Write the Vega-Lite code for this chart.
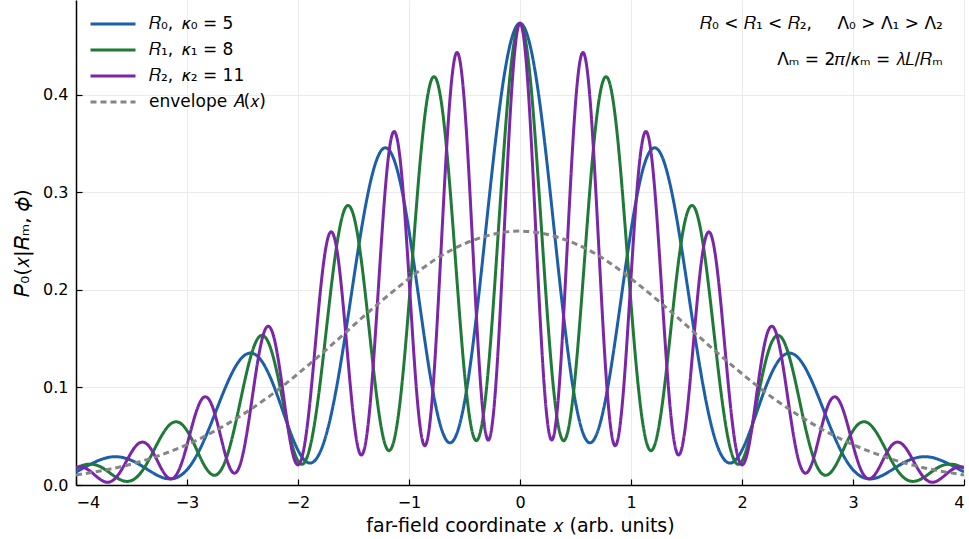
{
"$schema": "https://vega.github.io/schema/vega-lite/v6.json",
"width": 888, "height": 485,
"autosize": {"type": "none"},
"padding": {"left": 76, "top": 0, "right": 5, "bottom": 54},
"background": "white",
"config": {"font": "DejaVu Sans", "view": {"stroke": null},
 "axis": {"labelFont": "DejaVu Sans", "titleFont": "DejaVu Sans", "labelColor": "black", "titleColor": "black", "titleFontWeight": "normal", "domainColor": "black", "domainWidth": 1.5, "tickColor": "black", "tickWidth": 1.2, "gridColor": "#ebebeb", "gridWidth": 1}},
"datasets": {"curves": [
{"s":"R0","x":-4,"y":0.0134},{"s":"R0","x":-3.927,"y":0.0178},{"s":"R0","x":-3.7699,"y":0.0263},{"s":"R0","x":-3.6128,"y":0.0288},{"s":"R0","x":-3.4558,"y":0.0228},{"s":"R0","x":-3.2987,"y":0.0119},{"s":"R0","x":-3.1416,"y":0.0063},{"s":"R0","x":-2.9845,"y":0.0177},{"s":"R0","x":-2.8274,"y":0.0507},{"s":"R0","x":-2.6704,"y":0.0954},{"s":"R0","x":-2.5133,"y":0.1295},{"s":"R0","x":-2.3562,"y":0.1311},{"s":"R0","x":-2.1991,"y":0.0959},{"s":"R0","x":-2.042,"y":0.0463},{"s":"R0","x":-1.885,"y":0.0225},{"s":"R0","x":-1.7279,"y":0.0591},{"s":"R0","x":-1.5708,"y":0.1563},{"s":"R0","x":-1.4137,"y":0.272},{"s":"R0","x":-1.2566,"y":0.3417},{"s":"R0","x":-1.0996,"y":0.3202},{"s":"R0","x":-0.9425,"y":0.2165},{"s":"R0","x":-0.7854,"y":0.0965},{"s":"R0","x":-0.6283,"y":0.0432},{"s":"R0","x":-0.4712,"y":0.1045},{"s":"R0","x":-0.3142,"y":0.2549},{"s":"R0","x":-0.1571,"y":0.4087},
{"s":"R0","x":0,"y":0.4732},
{"s":"R0","x":0.1571,"y":0.4087},{"s":"R0","x":0.3142,"y":0.2549},{"s":"R0","x":0.4712,"y":0.1045},{"s":"R0","x":0.6283,"y":0.0432},{"s":"R0","x":0.7854,"y":0.0965},{"s":"R0","x":0.9425,"y":0.2165},{"s":"R0","x":1.0996,"y":0.3202},{"s":"R0","x":1.2566,"y":0.3417},{"s":"R0","x":1.4137,"y":0.272},{"s":"R0","x":1.5708,"y":0.1563},{"s":"R0","x":1.7279,"y":0.0591},{"s":"R0","x":1.885,"y":0.0225},{"s":"R0","x":2.042,"y":0.0463},{"s":"R0","x":2.1991,"y":0.0959},{"s":"R0","x":2.3562,"y":0.1311},{"s":"R0","x":2.5133,"y":0.1295},{"s":"R0","x":2.6704,"y":0.0954},{"s":"R0","x":2.8274,"y":0.0507},{"s":"R0","x":2.9845,"y":0.0177},{"s":"R0","x":3.1416,"y":0.0063},{"s":"R0","x":3.2987,"y":0.0119},{"s":"R0","x":3.4558,"y":0.0228},{"s":"R0","x":3.6128,"y":0.0288},{"s":"R0","x":3.7699,"y":0.0263},{"s":"R0","x":3.927,"y":0.0178},{"s":"R0","x":4,"y":0.0134},

{"s":"R1","x":-4,"y":0.017},{"s":"R1","x":-3.927,"y":0.0206},{"s":"R1","x":-3.8288,"y":0.0208},{"s":"R1","x":-3.7306,"y":0.0153},{"s":"R1","x":-3.6325,"y":0.0074},{"s":"R1","x":-3.5343,"y":0.0037},{"s":"R1","x":-3.4361,"y":0.0099},{"s":"R1","x":-3.3379,"y":0.0269},{"s":"R1","x":-3.2398,"y":0.0483},{"s":"R1","x":-3.1416,"y":0.0631},{"s":"R1","x":-3.0434,"y":0.0619},{"s":"R1","x":-2.9452,"y":0.0442},{"s":"R1","x":-2.8471,"y":0.0208},{"s":"R1","x":-2.7489,"y":0.01},{"s":"R1","x":-2.6507,"y":0.0259},{"s":"R1","x":-2.5525,"y":0.0683},{"s":"R1","x":-2.4544,"y":0.1192},{"s":"R1","x":-2.3562,"y":0.1511},{"s":"R1","x":-2.258,"y":0.1437},{"s":"R1","x":-2.1598,"y":0.0994},{"s":"R1","x":-2.0617,"y":0.0455},{"s":"R1","x":-1.9635,"y":0.0212},{"s":"R1","x":-1.8653,"y":0.0533},{"s":"R1","x":-1.7671,"y":0.1366},{"s":"R1","x":-1.669,"y":0.2313},{"s":"R1","x":-1.5708,"y":0.2845},{"s":"R1","x":-1.4726,"y":0.2626},{"s":"R1","x":-1.3744,"y":0.1761},{"s":"R1","x":-1.2763,"y":0.0781},{"s":"R1","x":-1.1781,"y":0.0352},{"s":"R1","x":-1.0799,"y":0.0859},{"s":"R1","x":-0.9817,"y":0.2131},{"s":"R1","x":-0.8836,"y":0.3508},{"s":"R1","x":-0.7854,"y":0.4178},{"s":"R1","x":-0.6872,"y":0.3734},{"s":"R1","x":-0.589,"y":0.2424},{"s":"R1","x":-0.4909,"y":0.1041},{"s":"R1","x":-0.3927,"y":0.0454},{"s":"R1","x":-0.2945,"y":0.1074},{"s":"R1","x":-0.1963,"y":0.258},{"s":"R1","x":-0.0982,"y":0.4099},
{"s":"R1","x":0,"y":0.4732},
{"s":"R1","x":0.0982,"y":0.4099},{"s":"R1","x":0.1963,"y":0.258},{"s":"R1","x":0.2945,"y":0.1074},{"s":"R1","x":0.3927,"y":0.0454},{"s":"R1","x":0.4909,"y":0.1041},{"s":"R1","x":0.589,"y":0.2424},{"s":"R1","x":0.6872,"y":0.3734},{"s":"R1","x":0.7854,"y":0.4178},{"s":"R1","x":0.8836,"y":0.3508},{"s":"R1","x":0.9817,"y":0.2131},{"s":"R1","x":1.0799,"y":0.0859},{"s":"R1","x":1.1781,"y":0.0352},{"s":"R1","x":1.2763,"y":0.0781},{"s":"R1","x":1.3744,"y":0.1761},{"s":"R1","x":1.4726,"y":0.2626},{"s":"R1","x":1.5708,"y":0.2845},{"s":"R1","x":1.669,"y":0.2313},{"s":"R1","x":1.7671,"y":0.1366},{"s":"R1","x":1.8653,"y":0.0533},{"s":"R1","x":1.9635,"y":0.0212},{"s":"R1","x":2.0617,"y":0.0455},{"s":"R1","x":2.1598,"y":0.0994},{"s":"R1","x":2.258,"y":0.1437},{"s":"R1","x":2.3562,"y":0.1511},{"s":"R1","x":2.4544,"y":0.1192},{"s":"R1","x":2.5525,"y":0.0683},{"s":"R1","x":2.6507,"y":0.0259},{"s":"R1","x":2.7489,"y":0.01},{"s":"R1","x":2.8471,"y":0.0208},{"s":"R1","x":2.9452,"y":0.0442},{"s":"R1","x":3.0434,"y":0.0619},{"s":"R1","x":3.1416,"y":0.0631},{"s":"R1","x":3.2398,"y":0.0483},{"s":"R1","x":3.3379,"y":0.0269},{"s":"R1","x":3.4361,"y":0.0099},{"s":"R1","x":3.5343,"y":0.0037},{"s":"R1","x":3.6325,"y":0.0074},{"s":"R1","x":3.7306,"y":0.0153},{"s":"R1","x":3.8288,"y":0.0208},{"s":"R1","x":3.927,"y":0.0206},{"s":"R1","x":4,"y":0.017},

{"s":"R2","x":-3.9984,"y":0.0183},{"s":"R2","x":-3.927,"y":0.0178},{"s":"R2","x":-3.8556,"y":0.0126},{"s":"R2","x":-3.7842,"y":0.006},{"s":"R2","x":-3.7128,"y":0.0028},{"s":"R2","x":-3.6414,"y":0.0074},{"s":"R2","x":-3.57,"y":0.0194},{"s":"R2","x":-3.4986,"y":0.0339},{"s":"R2","x":-3.4272,"y":0.0432},{"s":"R2","x":-3.3558,"y":0.0414},{"s":"R2","x":-3.2844,"y":0.0288},{"s":"R2","x":-3.213,"y":0.0133},{"s":"R2","x":-3.1416,"y":0.0063},{"s":"R2","x":-3.0702,"y":0.016},{"s":"R2","x":-2.9988,"y":0.0415},{"s":"R2","x":-2.9274,"y":0.0712},{"s":"R2","x":-2.856,"y":0.0893},{"s":"R2","x":-2.7846,"y":0.0841},{"s":"R2","x":-2.7132,"y":0.0576},{"s":"R2","x":-2.6418,"y":0.0262},{"s":"R2","x":-2.5704,"y":0.0121},{"s":"R2","x":-2.499,"y":0.0303},{"s":"R2","x":-2.4276,"y":0.0775},{"s":"R2","x":-2.3562,"y":0.1311},{"s":"R2","x":-2.2848,"y":0.1615},{"s":"R2","x":-2.2134,"y":0.1496},{"s":"R2","x":-2.142,"y":0.101},{"s":"R2","x":-2.0706,"y":0.0451},{"s":"R2","x":-1.9992,"y":0.0206},{"s":"R2","x":-1.9278,"y":0.0508},{"s":"R2","x":-1.8564,"y":0.1278},{"s":"R2","x":-1.785,"y":0.213},{"s":"R2","x":-1.7136,"y":0.2583},{"s":"R2","x":-1.6422,"y":0.2355},{"s":"R2","x":-1.5708,"y":0.1563},{"s":"R2","x":-1.4994,"y":0.0688},{"s":"R2","x":-1.428,"y":0.0307},{"s":"R2","x":-1.3566,"y":0.0747},{"s":"R2","x":-1.2852,"y":0.1849},{"s":"R2","x":-1.2138,"y":0.3031},{"s":"R2","x":-1.1424,"y":0.3615},{"s":"R2","x":-1.071,"y":0.3242},{"s":"R2","x":-0.9996,"y":0.2116},{"s":"R2","x":-0.9282,"y":0.0915},{"s":"R2","x":-0.8568,"y":0.0403},{"s":"R2","x":-0.7854,"y":0.0965},{"s":"R2","x":-0.714,"y":0.2346},{"s":"R2","x":-0.6426,"y":0.3779},{"s":"R2","x":-0.5712,"y":0.443},{"s":"R2","x":-0.4998,"y":0.3905},{"s":"R2","x":-0.4284,"y":0.2505},{"s":"R2","x":-0.357,"y":0.1065},{"s":"R2","x":-0.2856,"y":0.046},{"s":"R2","x":-0.2142,"y":0.1082},{"s":"R2","x":-0.1428,"y":0.2589},{"s":"R2","x":-0.0714,"y":0.4103},
{"s":"R2","x":0,"y":0.4732},
{"s":"R2","x":0.0714,"y":0.4103},{"s":"R2","x":0.1428,"y":0.2589},{"s":"R2","x":0.2142,"y":0.1082},{"s":"R2","x":0.2856,"y":0.046},{"s":"R2","x":0.357,"y":0.1065},{"s":"R2","x":0.4284,"y":0.2505},{"s":"R2","x":0.4998,"y":0.3905},{"s":"R2","x":0.5712,"y":0.443},{"s":"R2","x":0.6426,"y":0.3779},{"s":"R2","x":0.714,"y":0.2346},{"s":"R2","x":0.7854,"y":0.0965},{"s":"R2","x":0.8568,"y":0.0403},{"s":"R2","x":0.9282,"y":0.0915},{"s":"R2","x":0.9996,"y":0.2116},{"s":"R2","x":1.071,"y":0.3242},{"s":"R2","x":1.1424,"y":0.3615},{"s":"R2","x":1.2138,"y":0.3031},{"s":"R2","x":1.2852,"y":0.1849},{"s":"R2","x":1.3566,"y":0.0747},{"s":"R2","x":1.428,"y":0.0307},{"s":"R2","x":1.4994,"y":0.0688},{"s":"R2","x":1.5708,"y":0.1563},{"s":"R2","x":1.6422,"y":0.2355},{"s":"R2","x":1.7136,"y":0.2583},{"s":"R2","x":1.785,"y":0.213},{"s":"R2","x":1.8564,"y":0.1278},{"s":"R2","x":1.9278,"y":0.0508},{"s":"R2","x":1.9992,"y":0.0206},{"s":"R2","x":2.0706,"y":0.0451},{"s":"R2","x":2.142,"y":0.101},{"s":"R2","x":2.2134,"y":0.1496},{"s":"R2","x":2.2848,"y":0.1615},{"s":"R2","x":2.3562,"y":0.1311},{"s":"R2","x":2.4276,"y":0.0775},{"s":"R2","x":2.499,"y":0.0303},{"s":"R2","x":2.5704,"y":0.0121},{"s":"R2","x":2.6418,"y":0.0262},{"s":"R2","x":2.7132,"y":0.0576},{"s":"R2","x":2.7846,"y":0.0841},{"s":"R2","x":2.856,"y":0.0893},{"s":"R2","x":2.9274,"y":0.0712},{"s":"R2","x":2.9988,"y":0.0415},{"s":"R2","x":3.0702,"y":0.016},{"s":"R2","x":3.1416,"y":0.0063},{"s":"R2","x":3.213,"y":0.0133},{"s":"R2","x":3.2844,"y":0.0288},{"s":"R2","x":3.3558,"y":0.0414},{"s":"R2","x":3.4272,"y":0.0432},{"s":"R2","x":3.4986,"y":0.0339},{"s":"R2","x":3.57,"y":0.0194},{"s":"R2","x":3.6414,"y":0.0074},{"s":"R2","x":3.7128,"y":0.0028},{"s":"R2","x":3.7842,"y":0.006},{"s":"R2","x":3.8556,"y":0.0126},{"s":"R2","x":3.927,"y":0.0178},{"s":"R2","x":3.9984,"y":0.0183},

{"s":"env","x":-4,"y":0.0103},{"s":"env","x":-3.75,"y":0.015},{"s":"env","x":-3.5,"y":0.0215},{"s":"env","x":-3.25,"y":0.0302},{"s":"env","x":-3,"y":0.0414},{"s":"env","x":-2.75,"y":0.0553},{"s":"env","x":-2.5,"y":0.0721},{"s":"env","x":-2.25,"y":0.0916},{"s":"env","x":-2,"y":0.114},{"s":"env","x":-1.75,"y":0.1382},{"s":"env","x":-1.5,"y":0.1635},{"s":"env","x":-1.25,"y":0.1884},{"s":"env","x":-1,"y":0.2115},{"s":"env","x":-0.75,"y":0.2321},{"s":"env","x":-0.5,"y":0.2472},{"s":"env","x":-0.25,"y":0.2567},{"s":"env","x":0,"y":0.2602},{"s":"env","x":0.25,"y":0.2567},{"s":"env","x":0.5,"y":0.2472},{"s":"env","x":0.75,"y":0.2321},{"s":"env","x":1,"y":0.2115},{"s":"env","x":1.25,"y":0.1884},{"s":"env","x":1.5,"y":0.1635},{"s":"env","x":1.75,"y":0.1382},{"s":"env","x":2,"y":0.114},{"s":"env","x":2.25,"y":0.0916},{"s":"env","x":2.5,"y":0.0721},{"s":"env","x":2.75,"y":0.0553},{"s":"env","x":3,"y":0.0414},{"s":"env","x":3.25,"y":0.0302},{"s":"env","x":3.5,"y":0.0215},{"s":"env","x":3.75,"y":0.015},{"s":"env","x":4,"y":0.0103}
]},
"layer": [
 {"data": {"name": "curves"},
  "mark": {"type": "line", "interpolate": "natural", "clip": true},
  "encoding": {
   "x": {"field": "x", "type": "quantitative", "scale": {"domain": [-4, 4], "nice": false, "zero": false},
     "axis": {"values": [-4,-3,-2,-1,0,1,2,3,4], "format": "d", "title": "far-field coordinate 𝑥 (arb. units)", "titleFontSize": 19, "labelFontSize": 16, "tickSize": -6, "labelPadding": 15, "titlePadding": 6, "grid": true}},
   "y": {"field": "y", "type": "quantitative", "scale": {"domain": [0, 0.497], "nice": false},
     "axis": {"values": [0,0.1,0.2,0.3,0.4], "format": ".1f", "title": "𝑃₀(𝑥|𝑅ₘ, 𝜙)", "titleFontSize": 20, "labelFontSize": 16, "tickSize": -6, "labelPadding": 14, "titlePadding": 10, "grid": true}},
   "color": {"field": "s", "type": "nominal", "scale": {"domain": ["R0","R1","R2","env"], "range": ["#1b5ea9","#1f7a37","#7b25a8","#858585"]},
     "legend": {"orient": "none", "legendX": 28, "legendY": 15, "title": null, "labelFontSize": 17, "labelColor": "black", "symbolType": "M-3,0H3", "symbolSize": 225, "symbolStrokeWidth": 3, "rowPadding": 9, "labelOffset": 27, "padding": 0,
       "labelExpr": "datum.value == 'R0' ? '𝑅₀,\u2002𝜅₀ = 5' : datum.value == 'R1' ? '𝑅₁,\u2002𝜅₁ = 8' : datum.value == 'R2' ? '𝑅₂,\u2002𝜅₂ = 11' : 'envelope 𝐴(𝑥)'"}},
   "strokeDash": {"field": "s", "type": "nominal", "scale": {"domain": ["R0","R1","R2","env"], "range": [[1,0],[1,0],[1,0],[6,4]]},
     "legend": {"orient": "none", "legendX": 28, "legendY": 15, "title": null, "labelFontSize": 17, "labelColor": "black", "symbolType": "M-3,0H3", "symbolSize": 225, "symbolStrokeWidth": 3, "rowPadding": 9, "labelOffset": 27, "padding": 0,
       "labelExpr": "datum.value == 'R0' ? '𝑅₀,\u2002𝜅₀ = 5' : datum.value == 'R1' ? '𝑅₁,\u2002𝜅₁ = 8' : datum.value == 'R2' ? '𝑅₂,\u2002𝜅₂ = 11' : 'envelope 𝐴(𝑥)'"}},
   "strokeWidth": {"field": "s", "type": "nominal", "scale": {"domain": ["R0","R1","R2","env"], "range": [3,3,3,2]}, "legend": null}
  }},
 {"data": {"values": [{"note": "a"}]},
  "mark": {"type": "text", "align": "right", "baseline": "middle", "fontSize": 17, "font": "DejaVu Sans", "color": "black"},
  "encoding": {"x": {"datum": 3.81, "type": "quantitative"}, "y": {"datum": 0.472, "type": "quantitative"}, "text": {"value": "𝑅₀ < 𝑅₁ < 𝑅₂,\u2003\u2002Λ₀ > Λ₁ > Λ₂"}}},
 {"data": {"values": [{"note": "b"}]},
  "mark": {"type": "text", "align": "right", "baseline": "middle", "fontSize": 17, "font": "DejaVu Sans", "color": "black"},
  "encoding": {"x": {"datum": 3.81, "type": "quantitative"}, "y": {"datum": 0.4355, "type": "quantitative"}, "text": {"value": "Λₘ = 2𝜋/𝜅ₘ = 𝜆𝐿/𝑅ₘ"}}}
]
}
